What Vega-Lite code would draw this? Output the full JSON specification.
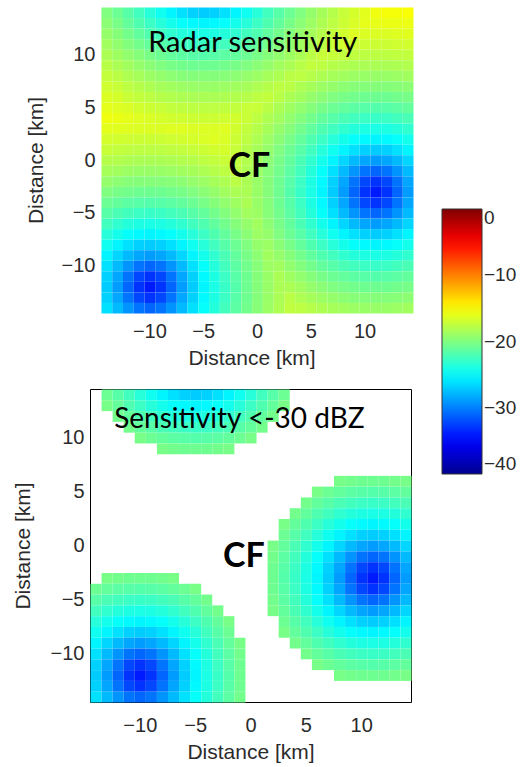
{
"$schema": "https://vega.github.io/schema/vega-lite/v6.json",
"background": "white",
"padding": {"left": 11, "top": 7, "right": 0, "bottom": 0},
"config": {
 "font": "Liberation Sans",
 "view": {"stroke": null},
 "axis": {"grid": false, "ticks": false, "domain": false, "labelFont": "Liberation Sans", "labelFontSize": 20, "labelColor": "#2b2b2b", "titleFont": "Liberation Sans", "titleFontSize": 21, "titleFontWeight": "normal", "titleColor": "#2b2b2b"},
 "axisX": {"labelPadding": 8, "titlePadding": 6},
 "axisY": {"labelPadding": 6},
 "legend": {"orient": "none", "legendX": 352, "legendY": 202, "gradientLength": 265, "gradientThickness": 40, "direction": "vertical", "labelFont": "Liberation Sans", "labelFontSize": 19, "labelColor": "#2b2b2b", "labelOffset": 6, "gradientStrokeColor": "#333333", "gradientStrokeWidth": 1, "padding": 0, "labelBaseline": "middle"}
},
"datasets": {"grid": [
{"x":-14,"y":14,"v":-20.0},{"x":-13,"y":14,"v":-20.8},{"x":-12,"y":14,"v":-21.6},{"x":-11,"y":14,"v":-22.5},{"x":-10,"y":14,"v":-23.5},{"x":-9,"y":14,"v":-24.4},{"x":-8,"y":14,"v":-25.4},{"x":-7,"y":14,"v":-26.2},{"x":-6,"y":14,"v":-26.8},{"x":-5,"y":14,"v":-27.0},{"x":-4,"y":14,"v":-26.8},{"x":-3,"y":14,"v":-26.2},{"x":-2,"y":14,"v":-25.4},{"x":-1,"y":14,"v":-24.4},{"x":0,"y":14,"v":-23.5},{"x":1,"y":14,"v":-22.5},{"x":2,"y":14,"v":-21.6},{"x":3,"y":14,"v":-20.8},{"x":4,"y":14,"v":-20.0},{"x":5,"y":14,"v":-19.2},{"x":6,"y":14,"v":-18.5},{"x":7,"y":14,"v":-17.9},{"x":8,"y":14,"v":-17.2},{"x":9,"y":14,"v":-16.7},{"x":10,"y":14,"v":-16.1},{"x":11,"y":14,"v":-15.6},{"x":12,"y":14,"v":-15.3},{"x":13,"y":14,"v":-15.3},{"x":14,"y":14,"v":-15.2},
{"x":-14,"y":13,"v":-19.6},{"x":-13,"y":13,"v":-20.3},{"x":-12,"y":13,"v":-21.1},{"x":-11,"y":13,"v":-21.9},{"x":-10,"y":13,"v":-22.7},{"x":-9,"y":13,"v":-23.5},{"x":-8,"y":13,"v":-24.2},{"x":-7,"y":13,"v":-24.8},{"x":-6,"y":13,"v":-25.2},{"x":-5,"y":13,"v":-25.4},{"x":-4,"y":13,"v":-25.2},{"x":-3,"y":13,"v":-24.8},{"x":-2,"y":13,"v":-24.2},{"x":-1,"y":13,"v":-23.5},{"x":0,"y":13,"v":-22.7},{"x":1,"y":13,"v":-21.9},{"x":2,"y":13,"v":-21.1},{"x":3,"y":13,"v":-20.3},{"x":4,"y":13,"v":-19.6},{"x":5,"y":13,"v":-18.9},{"x":6,"y":13,"v":-18.2},{"x":7,"y":13,"v":-17.6},{"x":8,"y":13,"v":-17.0},{"x":9,"y":13,"v":-16.5},{"x":10,"y":13,"v":-16.0},{"x":11,"y":13,"v":-15.9},{"x":12,"y":13,"v":-15.8},{"x":13,"y":13,"v":-15.8},{"x":14,"y":13,"v":-15.7},
{"x":-14,"y":12,"v":-19.2},{"x":-13,"y":12,"v":-19.8},{"x":-12,"y":12,"v":-20.5},{"x":-11,"y":12,"v":-21.2},{"x":-10,"y":12,"v":-21.9},{"x":-9,"y":12,"v":-22.5},{"x":-8,"y":12,"v":-23.1},{"x":-7,"y":12,"v":-23.6},{"x":-6,"y":12,"v":-23.9},{"x":-5,"y":12,"v":-24.0},{"x":-4,"y":12,"v":-23.9},{"x":-3,"y":12,"v":-23.6},{"x":-2,"y":12,"v":-23.1},{"x":-1,"y":12,"v":-22.5},{"x":0,"y":12,"v":-21.9},{"x":1,"y":12,"v":-21.2},{"x":2,"y":12,"v":-20.5},{"x":3,"y":12,"v":-19.8},{"x":4,"y":12,"v":-19.2},{"x":5,"y":12,"v":-18.5},{"x":6,"y":12,"v":-17.9},{"x":7,"y":12,"v":-17.4},{"x":8,"y":12,"v":-16.8},{"x":9,"y":12,"v":-16.3},{"x":10,"y":12,"v":-16.4},{"x":11,"y":12,"v":-16.4},{"x":12,"y":12,"v":-16.4},{"x":13,"y":12,"v":-16.3},{"x":14,"y":12,"v":-16.2},
{"x":-14,"y":11,"v":-18.7},{"x":-13,"y":11,"v":-19.3},{"x":-12,"y":11,"v":-19.9},{"x":-11,"y":11,"v":-20.5},{"x":-10,"y":11,"v":-21.1},{"x":-9,"y":11,"v":-21.6},{"x":-8,"y":11,"v":-22.1},{"x":-7,"y":11,"v":-22.4},{"x":-6,"y":11,"v":-22.7},{"x":-5,"y":11,"v":-22.8},{"x":-4,"y":11,"v":-22.7},{"x":-3,"y":11,"v":-22.4},{"x":-2,"y":11,"v":-22.1},{"x":-1,"y":11,"v":-21.6},{"x":0,"y":11,"v":-21.1},{"x":1,"y":11,"v":-20.5},{"x":2,"y":11,"v":-19.9},{"x":3,"y":11,"v":-19.3},{"x":4,"y":11,"v":-18.7},{"x":5,"y":11,"v":-18.2},{"x":6,"y":11,"v":-17.6},{"x":7,"y":11,"v":-17.1},{"x":8,"y":11,"v":-16.8},{"x":9,"y":11,"v":-16.9},{"x":10,"y":11,"v":-17.0},{"x":11,"y":11,"v":-17.0},{"x":12,"y":11,"v":-17.0},{"x":13,"y":11,"v":-16.9},{"x":14,"y":11,"v":-16.8},
{"x":-14,"y":10,"v":-18.3},{"x":-13,"y":10,"v":-18.8},{"x":-12,"y":10,"v":-19.3},{"x":-11,"y":10,"v":-19.8},{"x":-10,"y":10,"v":-20.3},{"x":-9,"y":10,"v":-20.8},{"x":-8,"y":10,"v":-21.1},{"x":-7,"y":10,"v":-21.4},{"x":-6,"y":10,"v":-21.6},{"x":-5,"y":10,"v":-21.7},{"x":-4,"y":10,"v":-21.6},{"x":-3,"y":10,"v":-21.4},{"x":-2,"y":10,"v":-21.1},{"x":-1,"y":10,"v":-20.8},{"x":0,"y":10,"v":-20.3},{"x":1,"y":10,"v":-19.8},{"x":2,"y":10,"v":-19.3},{"x":3,"y":10,"v":-18.8},{"x":4,"y":10,"v":-18.3},{"x":5,"y":10,"v":-17.7},{"x":6,"y":10,"v":-17.2},{"x":7,"y":10,"v":-17.2},{"x":8,"y":10,"v":-17.4},{"x":9,"y":10,"v":-17.5},{"x":10,"y":10,"v":-17.6},{"x":11,"y":10,"v":-17.6},{"x":12,"y":10,"v":-17.6},{"x":13,"y":10,"v":-17.5},{"x":14,"y":10,"v":-17.4},
{"x":-14,"y":9,"v":-17.8},{"x":-13,"y":9,"v":-18.3},{"x":-12,"y":9,"v":-18.7},{"x":-11,"y":9,"v":-19.2},{"x":-10,"y":9,"v":-19.6},{"x":-9,"y":9,"v":-20.0},{"x":-8,"y":9,"v":-20.3},{"x":-7,"y":9,"v":-20.5},{"x":-6,"y":9,"v":-20.7},{"x":-5,"y":9,"v":-20.7},{"x":-4,"y":9,"v":-20.7},{"x":-3,"y":9,"v":-20.5},{"x":-2,"y":9,"v":-20.3},{"x":-1,"y":9,"v":-20.0},{"x":0,"y":9,"v":-19.6},{"x":1,"y":9,"v":-19.2},{"x":2,"y":9,"v":-18.7},{"x":3,"y":9,"v":-18.3},{"x":4,"y":9,"v":-17.8},{"x":5,"y":9,"v":-17.4},{"x":6,"y":9,"v":-17.6},{"x":7,"y":9,"v":-17.9},{"x":8,"y":9,"v":-18.0},{"x":9,"y":9,"v":-18.2},{"x":10,"y":9,"v":-18.3},{"x":11,"y":9,"v":-18.3},{"x":12,"y":9,"v":-18.3},{"x":13,"y":9,"v":-18.2},{"x":14,"y":9,"v":-18.0},
{"x":-14,"y":8,"v":-17.3},{"x":-13,"y":8,"v":-17.7},{"x":-12,"y":8,"v":-18.2},{"x":-11,"y":8,"v":-18.5},{"x":-10,"y":8,"v":-18.9},{"x":-9,"y":8,"v":-19.2},{"x":-8,"y":8,"v":-19.5},{"x":-7,"y":8,"v":-19.7},{"x":-6,"y":8,"v":-19.8},{"x":-5,"y":8,"v":-19.8},{"x":-4,"y":8,"v":-19.8},{"x":-3,"y":8,"v":-19.7},{"x":-2,"y":8,"v":-19.5},{"x":-1,"y":8,"v":-19.2},{"x":0,"y":8,"v":-18.9},{"x":1,"y":8,"v":-18.5},{"x":2,"y":8,"v":-18.2},{"x":3,"y":8,"v":-17.7},{"x":4,"y":8,"v":-17.6},{"x":5,"y":8,"v":-17.9},{"x":6,"y":8,"v":-18.2},{"x":7,"y":8,"v":-18.5},{"x":8,"y":8,"v":-18.7},{"x":9,"y":8,"v":-18.9},{"x":10,"y":8,"v":-19.0},{"x":11,"y":8,"v":-19.0},{"x":12,"y":8,"v":-19.0},{"x":13,"y":8,"v":-18.9},{"x":14,"y":8,"v":-18.7},
{"x":-14,"y":7,"v":-16.9},{"x":-13,"y":7,"v":-17.2},{"x":-12,"y":7,"v":-17.6},{"x":-11,"y":7,"v":-17.9},{"x":-10,"y":7,"v":-18.2},{"x":-9,"y":7,"v":-18.5},{"x":-8,"y":7,"v":-18.7},{"x":-7,"y":7,"v":-18.9},{"x":-6,"y":7,"v":-19.0},{"x":-5,"y":7,"v":-19.0},{"x":-4,"y":7,"v":-19.0},{"x":-3,"y":7,"v":-18.9},{"x":-2,"y":7,"v":-18.7},{"x":-1,"y":7,"v":-18.5},{"x":0,"y":7,"v":-18.2},{"x":1,"y":7,"v":-17.9},{"x":2,"y":7,"v":-17.6},{"x":3,"y":7,"v":-17.7},{"x":4,"y":7,"v":-18.2},{"x":5,"y":7,"v":-18.5},{"x":6,"y":7,"v":-18.9},{"x":7,"y":7,"v":-19.2},{"x":8,"y":7,"v":-19.5},{"x":9,"y":7,"v":-19.7},{"x":10,"y":7,"v":-19.8},{"x":11,"y":7,"v":-19.8},{"x":12,"y":7,"v":-19.8},{"x":13,"y":7,"v":-19.7},{"x":14,"y":7,"v":-19.5},
{"x":-14,"y":6,"v":-16.4},{"x":-13,"y":6,"v":-16.7},{"x":-12,"y":6,"v":-17.1},{"x":-11,"y":6,"v":-17.4},{"x":-10,"y":6,"v":-17.6},{"x":-9,"y":6,"v":-17.9},{"x":-8,"y":6,"v":-18.0},{"x":-7,"y":6,"v":-18.2},{"x":-6,"y":6,"v":-18.3},{"x":-5,"y":6,"v":-18.3},{"x":-4,"y":6,"v":-18.3},{"x":-3,"y":6,"v":-18.2},{"x":-2,"y":6,"v":-18.0},{"x":-1,"y":6,"v":-17.9},{"x":0,"y":6,"v":-17.6},{"x":1,"y":6,"v":-17.4},{"x":2,"y":6,"v":-17.8},{"x":3,"y":6,"v":-18.3},{"x":4,"y":6,"v":-18.7},{"x":5,"y":6,"v":-19.2},{"x":6,"y":6,"v":-19.6},{"x":7,"y":6,"v":-20.0},{"x":8,"y":6,"v":-20.3},{"x":9,"y":6,"v":-20.5},{"x":10,"y":6,"v":-20.7},{"x":11,"y":6,"v":-20.7},{"x":12,"y":6,"v":-20.7},{"x":13,"y":6,"v":-20.5},{"x":14,"y":6,"v":-20.3},
{"x":-14,"y":5,"v":-16.0},{"x":-13,"y":5,"v":-16.3},{"x":-12,"y":5,"v":-16.5},{"x":-11,"y":5,"v":-16.8},{"x":-10,"y":5,"v":-17.0},{"x":-9,"y":5,"v":-17.2},{"x":-8,"y":5,"v":-17.4},{"x":-7,"y":5,"v":-17.5},{"x":-6,"y":5,"v":-17.6},{"x":-5,"y":5,"v":-17.6},{"x":-4,"y":5,"v":-17.6},{"x":-3,"y":5,"v":-17.5},{"x":-2,"y":5,"v":-17.4},{"x":-1,"y":5,"v":-17.2},{"x":0,"y":5,"v":-17.2},{"x":1,"y":5,"v":-17.7},{"x":2,"y":5,"v":-18.3},{"x":3,"y":5,"v":-18.8},{"x":4,"y":5,"v":-19.3},{"x":5,"y":5,"v":-19.8},{"x":6,"y":5,"v":-20.3},{"x":7,"y":5,"v":-20.8},{"x":8,"y":5,"v":-21.1},{"x":9,"y":5,"v":-21.4},{"x":10,"y":5,"v":-21.6},{"x":11,"y":5,"v":-21.7},{"x":12,"y":5,"v":-21.6},{"x":13,"y":5,"v":-21.4},{"x":14,"y":5,"v":-21.1},
{"x":-14,"y":4,"v":-15.6},{"x":-13,"y":4,"v":-15.8},{"x":-12,"y":4,"v":-16.0},{"x":-11,"y":4,"v":-16.3},{"x":-10,"y":4,"v":-16.5},{"x":-9,"y":4,"v":-16.7},{"x":-8,"y":4,"v":-16.8},{"x":-7,"y":4,"v":-16.9},{"x":-6,"y":4,"v":-17.0},{"x":-5,"y":4,"v":-17.0},{"x":-4,"y":4,"v":-17.0},{"x":-3,"y":4,"v":-16.9},{"x":-2,"y":4,"v":-16.8},{"x":-1,"y":4,"v":-17.1},{"x":0,"y":4,"v":-17.6},{"x":1,"y":4,"v":-18.2},{"x":2,"y":4,"v":-18.7},{"x":3,"y":4,"v":-19.3},{"x":4,"y":4,"v":-19.9},{"x":5,"y":4,"v":-20.5},{"x":6,"y":4,"v":-21.1},{"x":7,"y":4,"v":-21.6},{"x":8,"y":4,"v":-22.1},{"x":9,"y":4,"v":-22.4},{"x":10,"y":4,"v":-22.7},{"x":11,"y":4,"v":-22.8},{"x":12,"y":4,"v":-22.7},{"x":13,"y":4,"v":-22.4},{"x":14,"y":4,"v":-22.1},
{"x":-14,"y":3,"v":-16.1},{"x":-13,"y":3,"v":-16.2},{"x":-12,"y":3,"v":-16.3},{"x":-11,"y":3,"v":-16.4},{"x":-10,"y":3,"v":-16.4},{"x":-9,"y":3,"v":-16.4},{"x":-8,"y":3,"v":-16.3},{"x":-7,"y":3,"v":-16.3},{"x":-6,"y":3,"v":-16.4},{"x":-5,"y":3,"v":-16.4},{"x":-4,"y":3,"v":-16.4},{"x":-3,"y":3,"v":-16.3},{"x":-2,"y":3,"v":-16.8},{"x":-1,"y":3,"v":-17.4},{"x":0,"y":3,"v":-17.9},{"x":1,"y":3,"v":-18.5},{"x":2,"y":3,"v":-19.2},{"x":3,"y":3,"v":-19.8},{"x":4,"y":3,"v":-20.5},{"x":5,"y":3,"v":-21.2},{"x":6,"y":3,"v":-21.9},{"x":7,"y":3,"v":-22.5},{"x":8,"y":3,"v":-23.1},{"x":9,"y":3,"v":-23.6},{"x":10,"y":3,"v":-23.9},{"x":11,"y":3,"v":-24.0},{"x":12,"y":3,"v":-23.9},{"x":13,"y":3,"v":-23.6},{"x":14,"y":3,"v":-23.1},
{"x":-14,"y":2,"v":-16.7},{"x":-13,"y":2,"v":-16.8},{"x":-12,"y":2,"v":-16.9},{"x":-11,"y":2,"v":-17.0},{"x":-10,"y":2,"v":-17.0},{"x":-9,"y":2,"v":-17.0},{"x":-8,"y":2,"v":-16.9},{"x":-7,"y":2,"v":-16.8},{"x":-6,"y":2,"v":-16.7},{"x":-5,"y":2,"v":-16.5},{"x":-4,"y":2,"v":-16.3},{"x":-3,"y":2,"v":-16.5},{"x":-2,"y":2,"v":-17.0},{"x":-1,"y":2,"v":-17.6},{"x":0,"y":2,"v":-18.2},{"x":1,"y":2,"v":-18.9},{"x":2,"y":2,"v":-19.6},{"x":3,"y":2,"v":-20.3},{"x":4,"y":2,"v":-21.1},{"x":5,"y":2,"v":-21.9},{"x":6,"y":2,"v":-22.7},{"x":7,"y":2,"v":-23.5},{"x":8,"y":2,"v":-24.2},{"x":9,"y":2,"v":-24.8},{"x":10,"y":2,"v":-25.2},{"x":11,"y":2,"v":-25.4},{"x":12,"y":2,"v":-25.2},{"x":13,"y":2,"v":-24.8},{"x":14,"y":2,"v":-24.2},
{"x":-14,"y":1,"v":-17.2},{"x":-13,"y":1,"v":-17.4},{"x":-12,"y":1,"v":-17.5},{"x":-11,"y":1,"v":-17.6},{"x":-10,"y":1,"v":-17.6},{"x":-9,"y":1,"v":-17.6},{"x":-8,"y":1,"v":-17.5},{"x":-7,"y":1,"v":-17.4},{"x":-6,"y":1,"v":-17.2},{"x":-5,"y":1,"v":-17.0},{"x":-4,"y":1,"v":-16.8},{"x":-3,"y":1,"v":-16.7},{"x":-2,"y":1,"v":-17.2},{"x":-1,"y":1,"v":-17.9},{"x":0,"y":1,"v":-18.5},{"x":1,"y":1,"v":-19.2},{"x":2,"y":1,"v":-20.0},{"x":3,"y":1,"v":-20.8},{"x":4,"y":1,"v":-21.6},{"x":5,"y":1,"v":-22.5},{"x":6,"y":1,"v":-23.5},{"x":7,"y":1,"v":-24.4},{"x":8,"y":1,"v":-25.4},{"x":9,"y":1,"v":-26.2},{"x":10,"y":1,"v":-26.8},{"x":11,"y":1,"v":-27.0},{"x":12,"y":1,"v":-26.8},{"x":13,"y":1,"v":-26.2},{"x":14,"y":1,"v":-25.4},
{"x":-14,"y":0,"v":-17.9},{"x":-13,"y":0,"v":-18.0},{"x":-12,"y":0,"v":-18.2},{"x":-11,"y":0,"v":-18.3},{"x":-10,"y":0,"v":-18.3},{"x":-9,"y":0,"v":-18.3},{"x":-8,"y":0,"v":-18.2},{"x":-7,"y":0,"v":-18.0},{"x":-6,"y":0,"v":-17.9},{"x":-5,"y":0,"v":-17.6},{"x":-4,"y":0,"v":-17.4},{"x":-3,"y":0,"v":-17.1},{"x":-2,"y":0,"v":-17.4},{"x":-1,"y":0,"v":-18.0},{"x":0,"y":0,"v":-18.7},{"x":1,"y":0,"v":-19.5},{"x":2,"y":0,"v":-20.3},{"x":3,"y":0,"v":-21.1},{"x":4,"y":0,"v":-22.1},{"x":5,"y":0,"v":-23.1},{"x":6,"y":0,"v":-24.2},{"x":7,"y":0,"v":-25.4},{"x":8,"y":0,"v":-26.6},{"x":9,"y":0,"v":-27.7},{"x":10,"y":0,"v":-28.5},{"x":11,"y":0,"v":-28.9},{"x":12,"y":0,"v":-28.5},{"x":13,"y":0,"v":-27.7},{"x":14,"y":0,"v":-26.6},
{"x":-14,"y":-1,"v":-18.5},{"x":-13,"y":-1,"v":-18.7},{"x":-12,"y":-1,"v":-18.9},{"x":-11,"y":-1,"v":-19.0},{"x":-10,"y":-1,"v":-19.0},{"x":-9,"y":-1,"v":-19.0},{"x":-8,"y":-1,"v":-18.9},{"x":-7,"y":-1,"v":-18.7},{"x":-6,"y":-1,"v":-18.5},{"x":-5,"y":-1,"v":-18.2},{"x":-4,"y":-1,"v":-17.9},{"x":-3,"y":-1,"v":-17.6},{"x":-2,"y":-1,"v":-17.5},{"x":-1,"y":-1,"v":-18.2},{"x":0,"y":-1,"v":-18.9},{"x":1,"y":-1,"v":-19.7},{"x":2,"y":-1,"v":-20.5},{"x":3,"y":-1,"v":-21.4},{"x":4,"y":-1,"v":-22.4},{"x":5,"y":-1,"v":-23.6},{"x":6,"y":-1,"v":-24.8},{"x":7,"y":-1,"v":-26.2},{"x":8,"y":-1,"v":-27.7},{"x":9,"y":-1,"v":-29.2},{"x":10,"y":-1,"v":-30.5},{"x":11,"y":-1,"v":-31.0},{"x":12,"y":-1,"v":-30.5},{"x":13,"y":-1,"v":-29.2},{"x":14,"y":-1,"v":-27.7},
{"x":-14,"y":-2,"v":-19.2},{"x":-13,"y":-2,"v":-19.5},{"x":-12,"y":-2,"v":-19.7},{"x":-11,"y":-2,"v":-19.8},{"x":-10,"y":-2,"v":-19.8},{"x":-9,"y":-2,"v":-19.8},{"x":-8,"y":-2,"v":-19.7},{"x":-7,"y":-2,"v":-19.5},{"x":-6,"y":-2,"v":-19.2},{"x":-5,"y":-2,"v":-18.9},{"x":-4,"y":-2,"v":-18.5},{"x":-3,"y":-2,"v":-18.2},{"x":-2,"y":-2,"v":-17.7},{"x":-1,"y":-2,"v":-18.3},{"x":0,"y":-2,"v":-19.0},{"x":1,"y":-2,"v":-19.8},{"x":2,"y":-2,"v":-20.7},{"x":3,"y":-2,"v":-21.6},{"x":4,"y":-2,"v":-22.7},{"x":5,"y":-2,"v":-23.9},{"x":6,"y":-2,"v":-25.2},{"x":7,"y":-2,"v":-26.8},{"x":8,"y":-2,"v":-28.5},{"x":9,"y":-2,"v":-30.5},{"x":10,"y":-2,"v":-32.2},{"x":11,"y":-2,"v":-33.0},{"x":12,"y":-2,"v":-32.2},{"x":13,"y":-2,"v":-30.5},{"x":14,"y":-2,"v":-28.5},
{"x":-14,"y":-3,"v":-20.0},{"x":-13,"y":-3,"v":-20.3},{"x":-12,"y":-3,"v":-20.5},{"x":-11,"y":-3,"v":-20.7},{"x":-10,"y":-3,"v":-20.7},{"x":-9,"y":-3,"v":-20.7},{"x":-8,"y":-3,"v":-20.5},{"x":-7,"y":-3,"v":-20.3},{"x":-6,"y":-3,"v":-20.0},{"x":-5,"y":-3,"v":-19.6},{"x":-4,"y":-3,"v":-19.2},{"x":-3,"y":-3,"v":-18.7},{"x":-2,"y":-3,"v":-18.3},{"x":-1,"y":-3,"v":-18.3},{"x":0,"y":-3,"v":-19.0},{"x":1,"y":-3,"v":-19.8},{"x":2,"y":-3,"v":-20.7},{"x":3,"y":-3,"v":-21.7},{"x":4,"y":-3,"v":-22.8},{"x":5,"y":-3,"v":-24.0},{"x":6,"y":-3,"v":-25.4},{"x":7,"y":-3,"v":-27.0},{"x":8,"y":-3,"v":-28.9},{"x":9,"y":-3,"v":-31.0},{"x":10,"y":-3,"v":-33.0},{"x":11,"y":-3,"v":-34.0},{"x":12,"y":-3,"v":-33.0},{"x":13,"y":-3,"v":-31.0},{"x":14,"y":-3,"v":-28.9},
{"x":-14,"y":-4,"v":-20.8},{"x":-13,"y":-4,"v":-21.1},{"x":-12,"y":-4,"v":-21.4},{"x":-11,"y":-4,"v":-21.6},{"x":-10,"y":-4,"v":-21.7},{"x":-9,"y":-4,"v":-21.6},{"x":-8,"y":-4,"v":-21.4},{"x":-7,"y":-4,"v":-21.1},{"x":-6,"y":-4,"v":-20.8},{"x":-5,"y":-4,"v":-20.3},{"x":-4,"y":-4,"v":-19.8},{"x":-3,"y":-4,"v":-19.3},{"x":-2,"y":-4,"v":-18.8},{"x":-1,"y":-4,"v":-18.3},{"x":0,"y":-4,"v":-19.0},{"x":1,"y":-4,"v":-19.8},{"x":2,"y":-4,"v":-20.7},{"x":3,"y":-4,"v":-21.6},{"x":4,"y":-4,"v":-22.7},{"x":5,"y":-4,"v":-23.9},{"x":6,"y":-4,"v":-25.2},{"x":7,"y":-4,"v":-26.8},{"x":8,"y":-4,"v":-28.5},{"x":9,"y":-4,"v":-30.5},{"x":10,"y":-4,"v":-32.2},{"x":11,"y":-4,"v":-33.0},{"x":12,"y":-4,"v":-32.2},{"x":13,"y":-4,"v":-30.5},{"x":14,"y":-4,"v":-28.5},
{"x":-14,"y":-5,"v":-21.6},{"x":-13,"y":-5,"v":-22.1},{"x":-12,"y":-5,"v":-22.4},{"x":-11,"y":-5,"v":-22.7},{"x":-10,"y":-5,"v":-22.8},{"x":-9,"y":-5,"v":-22.7},{"x":-8,"y":-5,"v":-22.4},{"x":-7,"y":-5,"v":-22.1},{"x":-6,"y":-5,"v":-21.6},{"x":-5,"y":-5,"v":-21.1},{"x":-4,"y":-5,"v":-20.5},{"x":-3,"y":-5,"v":-19.9},{"x":-2,"y":-5,"v":-19.3},{"x":-1,"y":-5,"v":-18.7},{"x":0,"y":-5,"v":-18.9},{"x":1,"y":-5,"v":-19.7},{"x":2,"y":-5,"v":-20.5},{"x":3,"y":-5,"v":-21.4},{"x":4,"y":-5,"v":-22.4},{"x":5,"y":-5,"v":-23.6},{"x":6,"y":-5,"v":-24.8},{"x":7,"y":-5,"v":-26.2},{"x":8,"y":-5,"v":-27.7},{"x":9,"y":-5,"v":-29.2},{"x":10,"y":-5,"v":-30.5},{"x":11,"y":-5,"v":-31.0},{"x":12,"y":-5,"v":-30.5},{"x":13,"y":-5,"v":-29.2},{"x":14,"y":-5,"v":-27.7},
{"x":-14,"y":-6,"v":-22.5},{"x":-13,"y":-6,"v":-23.1},{"x":-12,"y":-6,"v":-23.6},{"x":-11,"y":-6,"v":-23.9},{"x":-10,"y":-6,"v":-24.0},{"x":-9,"y":-6,"v":-23.9},{"x":-8,"y":-6,"v":-23.6},{"x":-7,"y":-6,"v":-23.1},{"x":-6,"y":-6,"v":-22.5},{"x":-5,"y":-6,"v":-21.9},{"x":-4,"y":-6,"v":-21.2},{"x":-3,"y":-6,"v":-20.5},{"x":-2,"y":-6,"v":-19.8},{"x":-1,"y":-6,"v":-19.2},{"x":0,"y":-6,"v":-18.7},{"x":1,"y":-6,"v":-19.5},{"x":2,"y":-6,"v":-20.3},{"x":3,"y":-6,"v":-21.1},{"x":4,"y":-6,"v":-22.1},{"x":5,"y":-6,"v":-23.1},{"x":6,"y":-6,"v":-24.2},{"x":7,"y":-6,"v":-25.4},{"x":8,"y":-6,"v":-26.6},{"x":9,"y":-6,"v":-27.7},{"x":10,"y":-6,"v":-28.5},{"x":11,"y":-6,"v":-28.9},{"x":12,"y":-6,"v":-28.5},{"x":13,"y":-6,"v":-27.7},{"x":14,"y":-6,"v":-26.6},
{"x":-14,"y":-7,"v":-23.5},{"x":-13,"y":-7,"v":-24.2},{"x":-12,"y":-7,"v":-24.8},{"x":-11,"y":-7,"v":-25.2},{"x":-10,"y":-7,"v":-25.4},{"x":-9,"y":-7,"v":-25.2},{"x":-8,"y":-7,"v":-24.8},{"x":-7,"y":-7,"v":-24.2},{"x":-6,"y":-7,"v":-23.5},{"x":-5,"y":-7,"v":-22.7},{"x":-4,"y":-7,"v":-21.9},{"x":-3,"y":-7,"v":-21.1},{"x":-2,"y":-7,"v":-20.3},{"x":-1,"y":-7,"v":-19.6},{"x":0,"y":-7,"v":-18.9},{"x":1,"y":-7,"v":-19.2},{"x":2,"y":-7,"v":-20.0},{"x":3,"y":-7,"v":-20.8},{"x":4,"y":-7,"v":-21.6},{"x":5,"y":-7,"v":-22.5},{"x":6,"y":-7,"v":-23.5},{"x":7,"y":-7,"v":-24.4},{"x":8,"y":-7,"v":-25.4},{"x":9,"y":-7,"v":-26.2},{"x":10,"y":-7,"v":-26.8},{"x":11,"y":-7,"v":-27.0},{"x":12,"y":-7,"v":-26.8},{"x":13,"y":-7,"v":-26.2},{"x":14,"y":-7,"v":-25.4},
{"x":-14,"y":-8,"v":-24.4},{"x":-13,"y":-8,"v":-25.4},{"x":-12,"y":-8,"v":-26.2},{"x":-11,"y":-8,"v":-26.8},{"x":-10,"y":-8,"v":-27.0},{"x":-9,"y":-8,"v":-26.8},{"x":-8,"y":-8,"v":-26.2},{"x":-7,"y":-8,"v":-25.4},{"x":-6,"y":-8,"v":-24.4},{"x":-5,"y":-8,"v":-23.5},{"x":-4,"y":-8,"v":-22.5},{"x":-3,"y":-8,"v":-21.6},{"x":-2,"y":-8,"v":-20.8},{"x":-1,"y":-8,"v":-20.0},{"x":0,"y":-8,"v":-19.2},{"x":1,"y":-8,"v":-18.9},{"x":2,"y":-8,"v":-19.6},{"x":3,"y":-8,"v":-20.3},{"x":4,"y":-8,"v":-21.1},{"x":5,"y":-8,"v":-21.9},{"x":6,"y":-8,"v":-22.7},{"x":7,"y":-8,"v":-23.5},{"x":8,"y":-8,"v":-24.2},{"x":9,"y":-8,"v":-24.8},{"x":10,"y":-8,"v":-25.2},{"x":11,"y":-8,"v":-25.4},{"x":12,"y":-8,"v":-25.2},{"x":13,"y":-8,"v":-24.8},{"x":14,"y":-8,"v":-24.2},
{"x":-14,"y":-9,"v":-25.4},{"x":-13,"y":-9,"v":-26.6},{"x":-12,"y":-9,"v":-27.7},{"x":-11,"y":-9,"v":-28.5},{"x":-10,"y":-9,"v":-28.9},{"x":-9,"y":-9,"v":-28.5},{"x":-8,"y":-9,"v":-27.7},{"x":-7,"y":-9,"v":-26.6},{"x":-6,"y":-9,"v":-25.4},{"x":-5,"y":-9,"v":-24.2},{"x":-4,"y":-9,"v":-23.1},{"x":-3,"y":-9,"v":-22.1},{"x":-2,"y":-9,"v":-21.1},{"x":-1,"y":-9,"v":-20.3},{"x":0,"y":-9,"v":-19.5},{"x":1,"y":-9,"v":-18.7},{"x":2,"y":-9,"v":-19.2},{"x":3,"y":-9,"v":-19.8},{"x":4,"y":-9,"v":-20.5},{"x":5,"y":-9,"v":-21.2},{"x":6,"y":-9,"v":-21.9},{"x":7,"y":-9,"v":-22.5},{"x":8,"y":-9,"v":-23.1},{"x":9,"y":-9,"v":-23.6},{"x":10,"y":-9,"v":-23.9},{"x":11,"y":-9,"v":-24.0},{"x":12,"y":-9,"v":-23.9},{"x":13,"y":-9,"v":-23.6},{"x":14,"y":-9,"v":-23.1},
{"x":-14,"y":-10,"v":-26.2},{"x":-13,"y":-10,"v":-27.7},{"x":-12,"y":-10,"v":-29.2},{"x":-11,"y":-10,"v":-30.5},{"x":-10,"y":-10,"v":-31.0},{"x":-9,"y":-10,"v":-30.5},{"x":-8,"y":-10,"v":-29.2},{"x":-7,"y":-10,"v":-27.7},{"x":-6,"y":-10,"v":-26.2},{"x":-5,"y":-10,"v":-24.8},{"x":-4,"y":-10,"v":-23.6},{"x":-3,"y":-10,"v":-22.4},{"x":-2,"y":-10,"v":-21.4},{"x":-1,"y":-10,"v":-20.5},{"x":0,"y":-10,"v":-19.7},{"x":1,"y":-10,"v":-18.9},{"x":2,"y":-10,"v":-18.7},{"x":3,"y":-10,"v":-19.3},{"x":4,"y":-10,"v":-19.9},{"x":5,"y":-10,"v":-20.5},{"x":6,"y":-10,"v":-21.1},{"x":7,"y":-10,"v":-21.6},{"x":8,"y":-10,"v":-22.1},{"x":9,"y":-10,"v":-22.4},{"x":10,"y":-10,"v":-22.7},{"x":11,"y":-10,"v":-22.8},{"x":12,"y":-10,"v":-22.7},{"x":13,"y":-10,"v":-22.4},{"x":14,"y":-10,"v":-22.1},
{"x":-14,"y":-11,"v":-26.8},{"x":-13,"y":-11,"v":-28.5},{"x":-12,"y":-11,"v":-30.5},{"x":-11,"y":-11,"v":-32.2},{"x":-10,"y":-11,"v":-33.0},{"x":-9,"y":-11,"v":-32.2},{"x":-8,"y":-11,"v":-30.5},{"x":-7,"y":-11,"v":-28.5},{"x":-6,"y":-11,"v":-26.8},{"x":-5,"y":-11,"v":-25.2},{"x":-4,"y":-11,"v":-23.9},{"x":-3,"y":-11,"v":-22.7},{"x":-2,"y":-11,"v":-21.6},{"x":-1,"y":-11,"v":-20.7},{"x":0,"y":-11,"v":-19.8},{"x":1,"y":-11,"v":-19.0},{"x":2,"y":-11,"v":-18.3},{"x":3,"y":-11,"v":-18.8},{"x":4,"y":-11,"v":-19.3},{"x":5,"y":-11,"v":-19.8},{"x":6,"y":-11,"v":-20.3},{"x":7,"y":-11,"v":-20.8},{"x":8,"y":-11,"v":-21.1},{"x":9,"y":-11,"v":-21.4},{"x":10,"y":-11,"v":-21.6},{"x":11,"y":-11,"v":-21.7},{"x":12,"y":-11,"v":-21.6},{"x":13,"y":-11,"v":-21.4},{"x":14,"y":-11,"v":-21.1},
{"x":-14,"y":-12,"v":-27.0},{"x":-13,"y":-12,"v":-28.9},{"x":-12,"y":-12,"v":-31.0},{"x":-11,"y":-12,"v":-33.0},{"x":-10,"y":-12,"v":-34.0},{"x":-9,"y":-12,"v":-33.0},{"x":-8,"y":-12,"v":-31.0},{"x":-7,"y":-12,"v":-28.9},{"x":-6,"y":-12,"v":-27.0},{"x":-5,"y":-12,"v":-25.4},{"x":-4,"y":-12,"v":-24.0},{"x":-3,"y":-12,"v":-22.8},{"x":-2,"y":-12,"v":-21.7},{"x":-1,"y":-12,"v":-20.7},{"x":0,"y":-12,"v":-19.8},{"x":1,"y":-12,"v":-19.0},{"x":2,"y":-12,"v":-18.3},{"x":3,"y":-12,"v":-18.3},{"x":4,"y":-12,"v":-18.7},{"x":5,"y":-12,"v":-19.2},{"x":6,"y":-12,"v":-19.6},{"x":7,"y":-12,"v":-20.0},{"x":8,"y":-12,"v":-20.3},{"x":9,"y":-12,"v":-20.5},{"x":10,"y":-12,"v":-20.7},{"x":11,"y":-12,"v":-20.7},{"x":12,"y":-12,"v":-20.7},{"x":13,"y":-12,"v":-20.5},{"x":14,"y":-12,"v":-20.3},
{"x":-14,"y":-13,"v":-26.8},{"x":-13,"y":-13,"v":-28.5},{"x":-12,"y":-13,"v":-30.5},{"x":-11,"y":-13,"v":-32.2},{"x":-10,"y":-13,"v":-33.0},{"x":-9,"y":-13,"v":-32.2},{"x":-8,"y":-13,"v":-30.5},{"x":-7,"y":-13,"v":-28.5},{"x":-6,"y":-13,"v":-26.8},{"x":-5,"y":-13,"v":-25.2},{"x":-4,"y":-13,"v":-23.9},{"x":-3,"y":-13,"v":-22.7},{"x":-2,"y":-13,"v":-21.6},{"x":-1,"y":-13,"v":-20.7},{"x":0,"y":-13,"v":-19.8},{"x":1,"y":-13,"v":-19.0},{"x":2,"y":-13,"v":-18.3},{"x":3,"y":-13,"v":-17.7},{"x":4,"y":-13,"v":-18.2},{"x":5,"y":-13,"v":-18.5},{"x":6,"y":-13,"v":-18.9},{"x":7,"y":-13,"v":-19.2},{"x":8,"y":-13,"v":-19.5},{"x":9,"y":-13,"v":-19.7},{"x":10,"y":-13,"v":-19.8},{"x":11,"y":-13,"v":-19.8},{"x":12,"y":-13,"v":-19.8},{"x":13,"y":-13,"v":-19.7},{"x":14,"y":-13,"v":-19.5},
{"x":-14,"y":-14,"v":-26.2},{"x":-13,"y":-14,"v":-27.7},{"x":-12,"y":-14,"v":-29.2},{"x":-11,"y":-14,"v":-30.5},{"x":-10,"y":-14,"v":-31.0},{"x":-9,"y":-14,"v":-30.5},{"x":-8,"y":-14,"v":-29.2},{"x":-7,"y":-14,"v":-27.7},{"x":-6,"y":-14,"v":-26.2},{"x":-5,"y":-14,"v":-24.8},{"x":-4,"y":-14,"v":-23.6},{"x":-3,"y":-14,"v":-22.4},{"x":-2,"y":-14,"v":-21.4},{"x":-1,"y":-14,"v":-20.5},{"x":0,"y":-14,"v":-19.7},{"x":1,"y":-14,"v":-18.9},{"x":2,"y":-14,"v":-18.2},{"x":3,"y":-14,"v":-17.5},{"x":4,"y":-14,"v":-17.6},{"x":5,"y":-14,"v":-17.9},{"x":6,"y":-14,"v":-18.2},{"x":7,"y":-14,"v":-18.5},{"x":8,"y":-14,"v":-18.7},{"x":9,"y":-14,"v":-18.9},{"x":10,"y":-14,"v":-19.0},{"x":11,"y":-14,"v":-19.0},{"x":12,"y":-14,"v":-19.0},{"x":13,"y":-14,"v":-18.9},{"x":14,"y":-14,"v":-18.7}
]},
"columns": 1,
"spacing": 20,
"resolve": {"scale": {"x": "independent", "y": "independent", "color": "shared"}},
"concat": [
 {
  "width": 323, "height": 306,
  "layer": [
   {"data": {"name": "grid"},
    "mark": {"type": "rect"},
    "encoding": {
     "x": {"field": "x", "type": "quantitative", "bin": {"step": 1, "extent": [-14.5, 14.5], "nice": false}, "scale": {"domain": [-15.52, 14.5], "nice": false, "zero": false}, "axis": {"values": [-10, -5, 0, 5, 10], "title": "Distance [km]"}},
     "y": {"field": "y", "type": "quantitative", "bin": {"step": 1, "extent": [-14.5, 14.5], "nice": false}, "scale": {"domain": [-14.5, 14.5], "nice": false, "zero": false}, "axis": {"values": [-10, -5, 0, 5, 10], "title": "Distance [km]", "titlePadding": 15, "offset": -11}},
     "color": {"field": "v", "type": "quantitative", "scale": {"domain": [-40, -35, -25, -15, -5, 0], "range": ["#00008f", "#0000ff", "#00ffff", "#ffff00", "#ff0000", "#800000"], "interpolate": "rgb"}, "legend": {"title": null, "values": [0, -10, -20, -30, -40]}}
    }},
   {"data": {"values": [{}]},
    "mark": {"type": "text", "font": "Lato", "fontSize": 29, "color": "#000000"},
    "encoding": {"x": {"datum": -0.4}, "y": {"datum": 11.1}, "text": {"value": "Radar sensitivity"}}},
   {"data": {"values": [{}]},
    "mark": {"type": "text", "font": "Lato", "fontSize": 34, "fontWeight": "bold", "color": "#000000"},
    "encoding": {"x": {"datum": -0.7}, "y": {"datum": -0.7}, "text": {"value": "CF"}}}
  ]
 },
 {
  "width": 321, "height": 313,
  "view": {"stroke": "#000000", "strokeWidth": 1},
  "layer": [
   {"data": {"name": "grid"},
    "transform": [{"filter": "datum.v < -20"}],
    "mark": {"type": "rect"},
    "encoding": {
     "x": {"field": "x", "type": "quantitative", "bin": {"step": 1, "extent": [-14.5, 14.5], "nice": false}, "scale": {"domain": [-14.5, 14.5], "nice": false, "zero": false}, "axis": {"values": [-10, -5, 0, 5, 10], "title": "Distance [km]", "labelPadding": 13}},
     "y": {"field": "y", "type": "quantitative", "bin": {"step": 1, "extent": [-14.5, 14.5], "nice": false}, "scale": {"domain": [-14.5, 14.5], "nice": false, "zero": false}, "axis": {"values": [-10, -5, 0, 5, 10], "title": "Distance [km]", "titlePadding": 17}},
     "color": {"field": "v", "type": "quantitative", "scale": {"domain": [-40, -35, -25, -15, -5, 0], "range": ["#00008f", "#0000ff", "#00ffff", "#ffff00", "#ff0000", "#800000"], "interpolate": "rgb"}, "legend": {"title": null, "values": [0, -10, -20, -30, -40]}}
    }},
   {"data": {"values": [{}]},
    "mark": {"type": "text", "font": "Lato", "fontSize": 28, "color": "#000000"},
    "encoding": {"x": {"datum": -1.0}, "y": {"datum": 11.6}, "text": {"value": "Sensitivity <-30 dBZ"}}},
   {"data": {"values": [{}]},
    "mark": {"type": "text", "font": "Lato", "fontSize": 34, "fontWeight": "bold", "color": "#000000"},
    "encoding": {"x": {"datum": -0.6}, "y": {"datum": -1.1}, "text": {"value": "CF"}}}
  ]
 }
]
}
